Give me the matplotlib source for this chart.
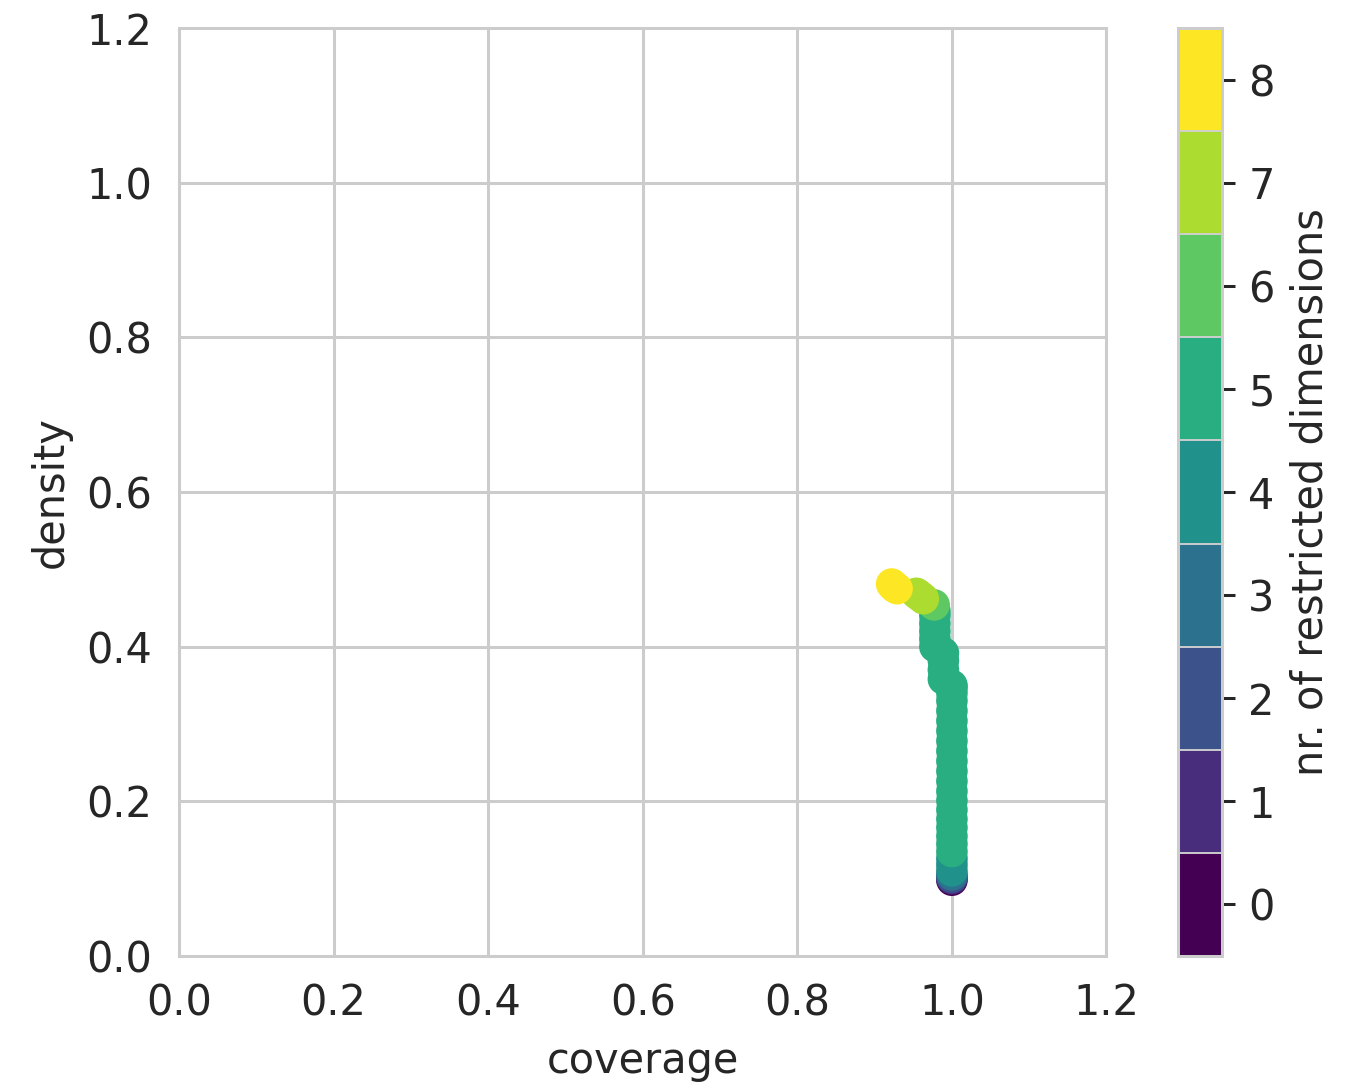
import numpy as np
import matplotlib
matplotlib.use("Agg")
import matplotlib.pyplot as plt
import matplotlib as mpl
import seaborn as sns

# peeling trajectory
coverage = [1.0, 1.0, 1.0, 1.0, 1.0, 1.0, 1.0,
            1.0, 1.0, 1.0, 1.0, 1.0, 1.0, 1.0, 1.0, 1.0, 1.0, 1.0, 1.0, 1.0,
            1.0, 1.0, 1.0, 1.0, 1.0, 1.0, 1.0,
            0.989, 0.989, 0.989, 0.989,
            0.978, 0.978, 0.978, 0.978, 0.978, 0.978,
            0.977, 0.963, 0.958, 0.954, 0.929, 0.926, 0.924, 0.922]
density = [0.098, 0.100, 0.102, 0.105, 0.110, 0.118, 0.126,
           0.135, 0.145, 0.155, 0.166, 0.177, 0.189, 0.201, 0.213, 0.226, 0.239, 0.252, 0.265,
           0.278, 0.291, 0.304, 0.317, 0.330, 0.340, 0.347, 0.350,
           0.358, 0.370, 0.382, 0.392,
           0.400, 0.410, 0.420, 0.430, 0.440, 0.446,
           0.454, 0.462, 0.466, 0.469, 0.475, 0.477, 0.479, 0.481]
res_dim = [0, 1, 2, 3, 4, 4, 4,
           5, 5, 5, 5, 5, 5, 5, 5, 5, 5, 5, 5,
           5, 5, 5, 5, 5, 5, 5, 5,
           5, 5, 5, 5,
           5, 5, 5, 5, 5, 5,
           6, 7, 7, 7, 8, 8, 8, 8]
dim_ticks = list(range(9))

sns.set_style("whitegrid")
plt.rcParams['font.family'] = ['DejaVu Sans']

DPI = 272
fig = plt.figure(figsize=(1356 / DPI, 1086 / DPI), dpi=DPI)
ax = fig.add_axes([0.132, 0.1197, 0.684, 0.8545])
cax = fig.add_axes([0.8687, 0.1197, 0.0324, 0.8545])

colors = plt.get_cmap('viridis')(np.linspace(0, 1, len(dim_ticks)))
cmap = mpl.colors.ListedColormap(colors)
bounds = np.arange(-0.5, len(dim_ticks), 1.0)
norm = mpl.colors.BoundaryNorm(bounds, cmap.N)

ax.scatter(coverage, density, c=res_dim, cmap=cmap, norm=norm, s=70, edgecolors='none')
ax.set_xlim(0, 1.2)
ax.set_ylim(0, 1.2)
ticks = np.arange(0, 1.21, 0.2)
ax.set_xticks(ticks)
ax.set_yticks(ticks)
ax.set_xticklabels([f"{v:.1f}" for v in ticks])
ax.set_yticklabels([f"{v:.1f}" for v in ticks])
ax.set_xlabel("coverage", fontsize=11, color='.15')
ax.set_ylabel("density", fontsize=11, color='.15')
ax.tick_params(labelsize=11, colors='.15')

sm = mpl.cm.ScalarMappable(norm=norm, cmap=cmap)
cb = fig.colorbar(sm, cax=cax, ticks=dim_ticks, drawedges=True)
cb.ax.yaxis.set_minor_locator(mpl.ticker.NullLocator())
cb.dividers.set_color('#d0d0d0')
cb.dividers.set_linewidth(0.5)
cb.outline.set_edgecolor('#cccccc')
cb.set_label("nr. of restricted dimensions", fontsize=11, color='.15')
cb.ax.tick_params(labelsize=11, length=3.5, width=0.8, colors='.15')

fig.savefig("out.png", dpi=DPI)
